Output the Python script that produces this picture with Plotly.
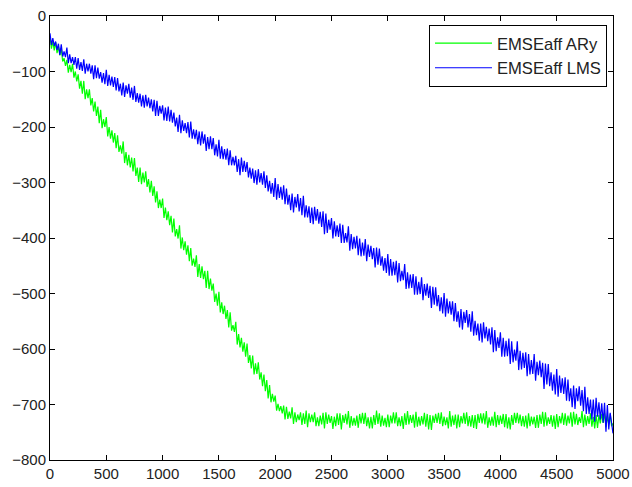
import plotly.graph_objects as go

# EMSEaff ARy (green) values, one every 12.5 samples (0..5000)
emse_ary = [
    -37, -59, -46, -62, -47, -67, -55, -71, -58, -82, -76, -90, -79, -102, -88, -101, -86, -111, -100, -118,
    -105, -131, -117, -140, -117, -150, -132, -148, -132, -161, -148, -172, -154, -180, -163, -193, -169, -202, -186, -200,
    -182, -217, -200, -221, -206, -228, -211, -238, -215, -245, -233, -248, -226, -265, -245, -269, -250, -273, -255, -280,
    -256, -288, -273, -299, -273, -303, -282, -300, -280, -308, -294, -318, -297, -324, -307, -336, -316, -346, -331, -346,
    -329, -364, -345, -368, -352, -377, -360, -390, -365, -397, -384, -401, -377, -419, -399, -422, -406, -430, -413, -442,
    -418, -450, -437, -452, -431, -470, -447, -472, -451, -474, -459, -490, -459, -492, -473, -495, -482, -515, -500, -522,
    -497, -534, -516, -537, -522, -546, -530, -561, -534, -567, -557, -569, -551, -592, -573, -597, -580, -605, -588, -614,
    -590, -625, -611, -635, -612, -646, -626, -645, -624, -655, -642, -667, -646, -676, -656, -689, -665, -696, -681, -695,
    -684, -711, -699, -712, -703, -716, -702, -727, -704, -726, -713, -725, -705, -735, -714, -732, -718, -728, -714, -737,
    -716, -735, -711, -741, -716, -732, -718, -732, -714, -739, -723, -739, -720, -736, -715, -743, -714, -735, -718, -733,
    -721, -744, -722, -739, -716, -737, -716, -745, -719, -733, -717, -736, -712, -742, -721, -738, -724, -738, -720, -742,
    -717, -734, -715, -735, -715, -739, -723, -743, -722, -743, -719, -737, -711, -735, -716, -740, -720, -738, -724, -741,
    -718, -741, -720, -734, -714, -734, -714, -739, -723, -739, -721, -744, -716, -737, -712, -736, -719, -733, -718, -742,
    -713, -740, -722, -738, -721, -736, -715, -740, -717, -745, -719, -746, -720, -733, -717, -733, -715, -735, -714, -739,
    -722, -737, -723, -743, -712, -740, -720, -737, -718, -743, -718, -741, -721, -734, -715, -735, -714, -739, -721, -740,
    -719, -742, -719, -744, -717, -733, -716, -734, -716, -736, -712, -742, -723, -738, -722, -738, -713, -741, -719, -737,
    -720, -735, -717, -741, -717, -743, -723, -745, -719, -737, -715, -733, -715, -734, -718, -739, -721, -740, -720, -743,
    -716, -739, -722, -736, -722, -742, -719, -742, -718, -735, -713, -740, -714, -738, -723, -735, -719, -740, -720, -744,
    -717, -741, -721, -734, -715, -737, -716, -738, -720, -734, -714, -740, -713, -736, -717, -737, -723, -733, -712, -741,
    -718, -738, -721, -735, -716, -740, -722, -743, -719, -742, -719, -734, -717, -733, -715, -741, -721, -736, -717, -739,
    -734,
]

# EMSEaff LMS (blue) values, one every 12.5 samples (0..5000)
emse_lms = [
    -31, -52, -40, -54, -46, -61, -50, -70, -51, -73, -64, -74, -57, -85, -69, -85, -74, -88, -74, -95,
    -76, -97, -83, -99, -78, -104, -86, -100, -86, -104, -89, -114, -89, -112, -93, -113, -101, -120, -103, -123,
    -97, -126, -106, -125, -109, -128, -110, -134, -112, -136, -122, -143, -120, -146, -125, -140, -122, -147, -129, -151,
    -126, -155, -139, -156, -140, -163, -143, -165, -142, -163, -147, -166, -150, -172, -151, -180, -153, -180, -162, -176,
    -161, -188, -165, -189, -163, -190, -169, -192, -174, -199, -183, -209, -178, -211, -188, -207, -193, -211, -191, -219,
    -190, -221, -204, -222, -205, -231, -208, -233, -208, -230, -213, -243, -218, -240, -217, -240, -220, -251, -231, -253,
    -223, -257, -235, -258, -240, -259, -239, -269, -242, -269, -254, -269, -252, -281, -258, -287, -255, -281, -261, -281,
    -263, -291, -273, -293, -275, -301, -278, -304, -276, -300, -283, -304, -280, -310, -287, -316, -297, -320, -301, -326,
    -292, -331, -303, -328, -308, -331, -305, -339, -311, -340, -322, -350, -320, -354, -326, -345, -321, -352, -328, -359,
    -324, -363, -341, -363, -343, -373, -345, -375, -344, -369, -348, -374, -353, -380, -352, -393, -356, -391, -367, -385,
    -364, -401, -370, -397, -377, -398, -374, -409, -376, -409, -391, -408, -379, -423, -393, -420, -398, -419, -396, -431,
    -401, -433, -408, -432, -402, -442, -412, -434, -414, -438, -418, -453, -417, -448, -419, -450, -433, -459, -436, -463,
    -429, -468, -438, -468, -443, -467, -441, -480, -445, -478, -459, -476, -447, -492, -462, -491, -466, -490, -465, -502,
    -469, -502, -479, -501, -471, -512, -483, -504, -482, -508, -486, -526, -488, -520, -489, -523, -503, -532, -507, -536,
    -499, -542, -509, -536, -514, -538, -514, -550, -517, -551, -532, -561, -528, -565, -533, -553, -530, -561, -537, -569,
    -532, -576, -549, -575, -554, -585, -554, -588, -552, -581, -560, -586, -563, -592, -561, -606, -566, -604, -579, -598,
    -570, -614, -580, -614, -585, -613, -581, -627, -586, -624, -601, -621, -586, -638, -603, -637, -607, -634, -606, -649,
    -609, -646, -620, -645, -609, -657, -623, -647, -621, -651, -625, -672, -626, -664, -627, -667, -642, -675, -646, -682,
    -636, -686, -648, -679, -653, -681, -651, -693, -655, -694, -671, -705, -666, -708, -671, -694, -667, -702, -674, -712,
    -668, -717, -687, -717, -691, -727, -691, -731, -688, -722, -696, -727, -698, -733, -697, -749, -701, -745, -715, -739,
    -752,
]

series_names = ["EMSEaff ARy", "EMSEaff LMS"]
series_colors = ["#00FF00", "#0000FF"]
sample_step = 12.5

x_ticks = list(range(0, 5001, 500))
y_ticks = list(range(-800, 1, 100))

fig = go.Figure()
for name, vals, col in zip(series_names, [emse_ary, emse_lms], series_colors):
    xs = [i * sample_step for i in range(len(vals))]
    fig.add_trace(go.Scatter(
        x=xs, y=vals, mode="lines", name=name,
        line=dict(color=col, width=1.2),
    ))

axis_common = dict(
    showgrid=False, zeroline=False, showline=True, linecolor="black",
    linewidth=1, mirror="ticks", ticks="inside", ticklen=5, tickwidth=1,
    tickcolor="black", automargin=False,
    tickfont=dict(family="Arial, Liberation Sans", size=15, color="#222222"),
)

fig.update_layout(
    width=632, height=487,
    margin=dict(l=50, r=19, t=16, b=27, autoexpand=False),
    paper_bgcolor="white", plot_bgcolor="white",
    xaxis=dict(range=[0, 5000], tickvals=x_ticks, **axis_common),
    yaxis=dict(range=[-800, 0], tickvals=y_ticks, **axis_common),
    legend=dict(
        x=0.9893, y=0.98, xanchor="right", yanchor="top",
        bgcolor="white", bordercolor="black", borderwidth=1,
        font=dict(family="Arial, Liberation Sans", size=16.6, color="#222222"),
        itemwidth=57,
    ),
    showlegend=True,
)

fig.write_html("out.html")
